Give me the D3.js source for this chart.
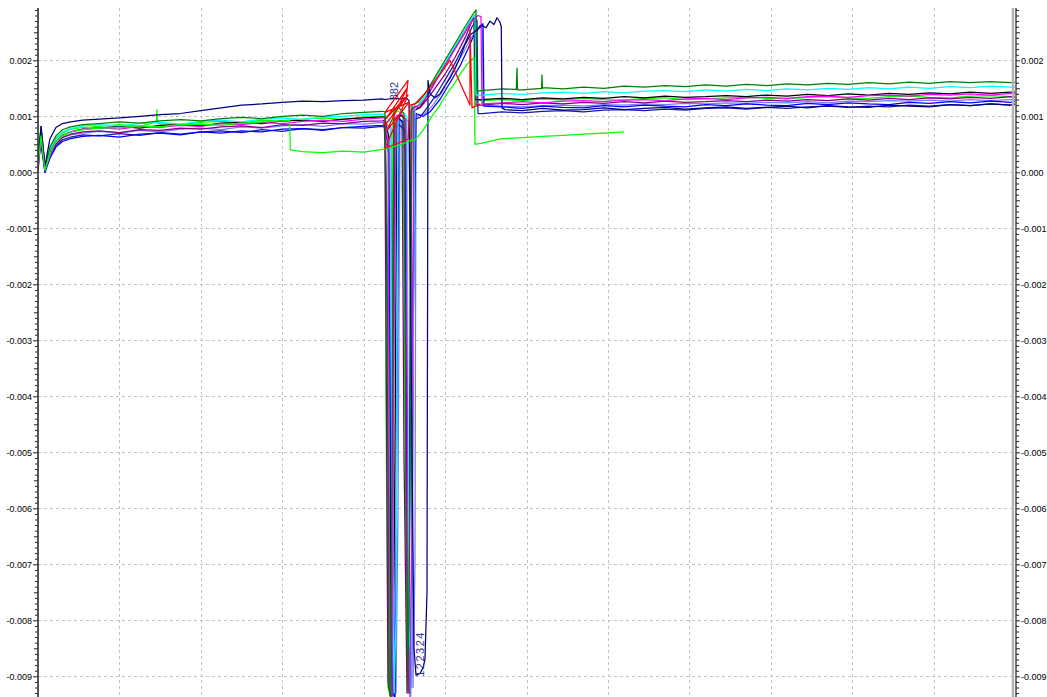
<!DOCTYPE html>
<html>
<head>
<meta charset="utf-8">
<script src="https://cdn.jsdelivr.net/npm/d3@7"></script>
<style>
  html, body { margin: 0; padding: 0; background: #ffffff; overflow: hidden; }
  text { font-family: "Liberation Sans", Arial, sans-serif; }
</style>
</head>
<body>
<svg id="chart" width="1047" height="697"></svg>
<script>
// Time base (s) shared by the recordings before and after the transition
const tPre = [0, 0.37, 0.86, 1.47, 2.2, 3, 4, 5.5, 7.5, 10, 12.5, 15, 17.5, 20, 22.5, 25, 27.5, 30, 32.5, 35, 37.5, 40, 42.3];
const tPost = [54.5, 57, 59.5, 62, 64.5, 67, 69.5, 72, 74.5, 77, 79.5, 82, 84.5, 87, 89.5, 92, 94.5, 97, 99.5, 102, 104.5, 107, 109.5, 112, 114.5, 117, 119.5, 120];

// Y ticks (values in units of 0.001)
const majorTicks = [-9, -8, -7, -6, -5, -4, -3, -2, -1, 0, 1, 2];
const gridTimes = [10, 20, 30, 40, 50, 60, 70, 80, 90, 100, 110];

// Readings (units of 0.001) ---------------------------------------------
const whitePre  = [0.3, 0.7, 0.05, 0.38, 0.58, 0.68, 0.74, 0.78, 0.8, 0.82, 0.8, 0.84, 0.86, 0.84, 0.88, 0.9, 0.88, 0.92, 0.94, 0.92, 0.96, 0.98, 1.0];
const whiteMid  = [[42.62,1.0],[42.87,0.4],[43.11,-9.1],[43.36,-9.3],[43.6,-4],[43.85,1.0],[44.46,1.05],[45.08,0.98],[45.32,-7],[45.57,-9.2],[45.81,-6],[46.06,1.1],[46.8,1.18],[47.78,1.38],[48.76,1.6],[49.99,1.9],[51.22,2.2],[52.45,2.5],[53.31,2.7],[53.55,2.75],[53.67,1.25]];
const whitePost = [1.25, 1.28, 1.3, 1.28, 1.31, 1.32, 1.3, 1.33, 1.34, 1.32, 1.35, 1.36, 1.34, 1.37, 1.38, 1.36, 1.39, 1.4, 1.38, 1.41, 1.42, 1.4, 1.43, 1.44, 1.42, 1.45, 1.46, 1.45];

const lime2Pre   = [0.35, 0.78, 0.08, 0.4, 0.6, 0.7, 0.77, 0.8, 0.82, 0.85, 0.82, 0.87, 0.85, 0.89, 0.91, 0.88, 0.93, 0.91, 0.95, 0.97, 0.94, 0.99, 1.0];
const lime2Mid   = [[42.62,1.0],[42.74,-4],[42.99,-9.2],[43.23,-9.3],[43.48,-2],[43.6,1.05],[44.22,1.1],[44.83,1.0],[45.2,-7],[45.45,-9.25],[45.69,-5],[45.94,1.15],[46.67,1.2],[47.53,1.35],[48.76,1.65],[49.99,1.95],[51.22,2.25],[52.45,2.55],[53.31,2.75],[53.67,2.82],[53.8,1.3]];
const lime2Post  = [1.28, 1.3, 1.28, 1.31, 1.29, 1.32, 1.3, 1.29, 1.32, 1.33, 1.3, 1.31, 1.33, 1.34, 1.32, 1.31, 1.34, 1.35, 1.33, 1.32, 1.35, 1.36, 1.34, 1.33, 1.36, 1.37, 1.35, 1.36];
const lime2Extra = [[14.55,0.9],[14.6,1.12],[14.66,0.88]];

const blackPre  = [0.2, 0.5, 0.0, 0.35, 0.55, 0.66, 0.72, 0.77, 0.79, 0.82, 0.79, 0.84, 0.85, 0.83, 0.88, 0.89, 0.87, 0.92, 0.93, 0.91, 0.95, 0.97, 0.99];
const blackMid  = [[42.62,0.98],[43.11,0.6],[43.36,-8.5],[43.6,-9.35],[43.85,-5],[44.09,0.95],[44.58,1.02],[45.08,0.95],[45.45,-6],[45.69,-9.3],[45.94,-8],[46.18,1.1],[46.92,1.16],[47.78,1.36],[48.76,1.62],[49.99,1.92],[51.22,2.22],[52.45,2.5],[53.31,2.72],[53.55,2.78],[53.67,1.3]];
const blackPost = [1.3, 1.32, 1.3, 1.33, 1.31, 1.34, 1.32, 1.35, 1.33, 1.36, 1.34, 1.35, 1.37, 1.35, 1.38, 1.36, 1.39, 1.37, 1.4, 1.38, 1.41, 1.39, 1.42, 1.4, 1.43, 1.41, 1.43, 1.43];

const periPre  = [0.3, 0.75, 0.1, 0.4, 0.55, 0.63, 0.67, 0.7, 0.73, 0.7, 0.75, 0.72, 0.77, 0.79, 0.76, 0.81, 0.79, 0.83, 0.85, 0.82, 0.87, 0.86, 0.89];
const periMid  = [[42.62,0.88],[43.36,0.8],[43.6,-7],[43.97,-9.3],[44.22,-6],[44.46,0.9],[45.08,0.95],[45.57,0.9],[45.81,-4],[46.06,-9.2],[46.3,-7],[46.43,1.0],[47.53,1.05],[48.5,1.2],[49.7,1.45],[50.9,1.8],[52.1,2.1],[53.2,2.4],[54.29,2.6],[54.6,2.55],[54.66,1.2]];
const periPost = [1.16, 1.18, 1.17, 1.19, 1.2, 1.18, 1.21, 1.2, 1.22, 1.21, 1.23, 1.22, 1.24, 1.23, 1.25, 1.24, 1.26, 1.24, 1.27, 1.26, 1.28, 1.27, 1.29, 1.27, 1.3, 1.28, 1.3, 1.3];

const dblPre  = [0.2, 0.65, 0.05, 0.3, 0.48, 0.58, 0.63, 0.67, 0.65, 0.69, 0.66, 0.71, 0.68, 0.72, 0.74, 0.71, 0.76, 0.73, 0.78, 0.76, 0.8, 0.79, 0.82];
const dblMid  = [[42.62,0.8],[42.87,-2],[43.11,-9.0],[43.36,-9.2],[43.6,-5],[43.85,0.8],[44.34,0.85],[45.08,0.75],[45.32,-6],[45.57,-9.3],[45.81,-9.1],[46.06,-2],[46.3,0.95],[46.92,0.98],[47.78,1.15],[48.76,1.35],[49.99,1.65],[51.22,1.95],[52.45,2.3],[53.31,2.6],[53.92,2.72],[54.04,1.05]];
const dblPost = [1.05, 1.08, 1.06, 1.09, 1.1, 1.08, 1.11, 1.12, 1.1, 1.13, 1.11, 1.14, 1.15, 1.13, 1.16, 1.14, 1.17, 1.18, 1.16, 1.18, 1.17, 1.2, 1.18, 1.21, 1.19, 1.22, 1.2, 1.22];

const purplePre  = [0.15, 0.7, 0.02, 0.3, 0.5, 0.62, 0.68, 0.72, 0.74, 0.71, 0.76, 0.75, 0.79, 0.77, 0.81, 0.83, 0.8, 0.85, 0.84, 0.88, 0.87, 0.91, 0.92];
const purpleMid  = [[42.5,0.93],[42.62,0.5],[42.99,-9.1],[43.23,-9.35],[43.48,-6],[43.73,0.95],[44.22,1.0],[44.71,0.9],[44.95,-5],[45.32,-9.3],[45.57,-7],[45.81,1.1],[46.3,1.18],[46.92,1.15],[47.78,1.3],[48.76,1.5],[49.99,1.75],[51.22,2.05],[52.45,2.4],[53.31,2.7],[53.67,2.78],[53.8,1.2]];
const purplePost = [1.2, 1.23, 1.21, 1.24, 1.22, 1.25, 1.23, 1.26, 1.24, 1.27, 1.25, 1.26, 1.28, 1.26, 1.29, 1.27, 1.3, 1.28, 1.31, 1.29, 1.32, 1.3, 1.33, 1.31, 1.34, 1.32, 1.35, 1.34];

const bluePre  = [0.05, 0.6, 0.0, 0.25, 0.45, 0.55, 0.6, 0.64, 0.66, 0.63, 0.68, 0.7, 0.67, 0.72, 0.7, 0.74, 0.72, 0.77, 0.78, 0.75, 0.8, 0.82, 0.84];
const blueMid  = [[42.62,0.85],[43.11,0.3],[43.48,-9.2],[43.85,-9.4],[44.09,-4],[44.34,0.95],[44.83,0.9],[45.08,0.3],[45.45,-9.0],[45.81,-9.2],[46.06,-3],[46.43,1.05],[47.29,1.0],[48.15,1.08],[49.37,1.3],[50.6,1.6],[51.83,1.9],[52.81,2.2],[53.55,2.45],[54.29,2.62],[54.66,2.65],[54.78,1.18]];
const bluePost = [1.15, 1.17, 1.14, 1.18, 1.16, 1.15, 1.19, 1.17, 1.2, 1.18, 1.17, 1.21, 1.19, 1.22, 1.2, 1.19, 1.23, 1.21, 1.24, 1.22, 1.21, 1.25, 1.23, 1.26, 1.24, 1.27, 1.25, 1.27];

const cyanPre  = [0.4, 0.72, 0.06, 0.42, 0.62, 0.72, 0.78, 0.83, 0.85, 0.83, 0.87, 0.89, 0.86, 0.91, 0.93, 0.9, 0.95, 0.97, 0.94, 0.99, 1.0, 1.03, 1.04];
const cyanMid  = [[42.62,1.03],[43.23,0.9],[43.48,-6],[43.73,-9.3],[43.97,-8],[44.22,1.0],[44.71,1.08],[45.32,1.0],[45.57,-8],[45.81,-9.35],[46.06,-4],[46.3,1.15],[46.92,1.22],[47.78,1.4],[48.76,1.65],[49.99,1.95],[51.22,2.25],[52.45,2.55],[53.31,2.75],[53.67,2.8],[53.8,1.38]];
const cyanPost = [1.38, 1.41, 1.39, 1.42, 1.43, 1.41, 1.44, 1.42, 1.45, 1.46, 1.44, 1.47, 1.45, 1.48, 1.46, 1.49, 1.47, 1.5, 1.48, 1.51, 1.49, 1.52, 1.5, 1.53, 1.51, 1.54, 1.52, 1.53];

const magPre  = [0.0, 0.6, 0.05, 0.3, 0.55, 0.66, 0.72, 0.77, 0.8, 0.77, 0.82, 0.8, 0.84, 0.82, 0.87, 0.85, 0.89, 0.87, 0.91, 0.93, 0.91, 0.95, 0.97];
const magMid  = [[42.62,0.97],[42.99,0.5],[43.23,-9.0],[43.48,-9.45],[43.73,-3],[43.97,1.0],[44.58,1.05],[45.2,0.95],[45.45,-8],[45.69,-9.4],[45.94,-6],[46.18,1.15],[46.92,1.2],[47.78,1.35],[48.76,1.6],[49.99,1.9],[51.22,2.2],[52.45,2.5],[53.31,2.7],[54.04,2.8],[54.41,2.78],[54.53,1.22]];
const magPost = [1.22, 1.24, 1.26, 1.24, 1.27, 1.28, 1.26, 1.29, 1.3, 1.28, 1.31, 1.32, 1.3, 1.33, 1.34, 1.32, 1.35, 1.36, 1.34, 1.37, 1.38, 1.36, 1.39, 1.38, 1.4, 1.38, 1.41, 1.4];

const greenPre   = [0.2, 0.82, 0.1, 0.45, 0.65, 0.76, 0.81, 0.85, 0.87, 0.9, 0.88, 0.92, 0.94, 0.92, 0.96, 0.98, 0.96, 1.0, 1.02, 1.0, 1.05, 1.07, 1.09];
const greenMid   = [[42.62,1.08],[42.87,-1],[43.11,-9.2],[43.36,-9.4],[43.6,-1],[43.73,1.1],[44.34,1.15],[44.95,1.05],[45.2,-6],[45.45,-9.3],[45.69,-6],[45.94,1.2],[46.67,1.25],[47.53,1.4],[48.76,1.7],[49.99,2.0],[51.22,2.3],[52.45,2.6],[53.31,2.8],[53.8,2.9],[53.92,1.45]];
const greenPost  = [1.46, 1.49, 1.47, 1.51, 1.49, 1.52, 1.5, 1.54, 1.52, 1.55, 1.53, 1.56, 1.54, 1.57, 1.55, 1.58, 1.56, 1.59, 1.57, 1.6, 1.58, 1.61, 1.59, 1.62, 1.6, 1.62, 1.6, 1.61];
const greenExtra = [[58.75,1.48],[58.83,1.86],[58.9,1.47],[61.85,1.5],[61.9,1.74],[61.95,1.5]];

const navyPre  = [0.1, 0.82, 0.12, 0.6, 0.8, 0.87, 0.9, 0.93, 0.95, 0.97, 1.0, 1.03, 1.05, 1.1, 1.15, 1.2, 1.22, 1.25, 1.27, 1.26, 1.28, 1.29, 1.31];
const navyMid  = [[42.62,1.3],[43.6,1.32],[44.46,1.31],[45.2,1.33],[45.57,1.28],[45.94,-5],[46.18,-8.5],[46.43,-8.98],[46.92,-8.95],[47.29,-8.85],[47.53,-8.7],[47.78,-7.5],[47.9,1.64],[48.15,1.4],[48.76,1.33],[49.37,1.4],[49.99,1.55],[50.6,1.68],[51.22,1.85],[51.83,2.05],[52.45,2.28],[53.06,2.45],[53.55,2.5],[54.04,2.56],[54.53,2.62],[55.02,2.58],[55.52,2.7],[56.0,2.64],[56.38,2.76],[56.74,2.68],[56.9,2.6],[56.99,1.15],[57.36,1.12]];
const navyPost = [1.1, 1.13, 1.1, 1.14, 1.11, 1.12, 1.15, 1.12, 1.14, 1.16, 1.13, 1.15, 1.17, 1.14, 1.16, 1.18, 1.15, 1.19, 1.17, 1.16, 1.2, 1.18, 1.17, 1.21, 1.19, 1.22, 1.2, 1.22];

const limePre   = [0.1, 0.65, 0.03, 0.33, 0.55, 0.65, 0.72, 0.76, 0.79, 0.8, 0.83, 0.81, 0.85, 0.86, 0.84, 0.88, 0.9, 0.92, 0.37, 0.35, 0.38, 0.36, 0.41];
const limeMid   = [[42.62,0.42],[43.6,0.46],[44.71,0.5],[45.57,0.56],[46.3,0.58],[47.29,0.75],[48.15,0.95],[49.37,1.2],[49.99,1.35],[51.22,1.6],[51.83,1.75],[52.81,1.95],[53.55,2.05],[53.67,0.5]];
const limePost  = [0.52, 0.6, 0.62, 0.64, 0.66, 0.68, 0.7, 0.72];
const limeExtra = [[30.9,0.93],[31.0,0.4]];

// Marker trace, recorded in acquisition order (not sorted by time)
const redTrace = [[42.5,0.9],[42.62,0.84],[45.45,1.38],[42.74,0.96],[45.32,1.5],[42.87,0.75],[45.57,1.25],[42.62,1.07],[45.45,1.64],[45.2,1.29],[42.62,0.43],[45.45,0.59],[45.69,1.2],[46.3,1.22],[47.78,1.45],[49.37,1.75],[50.6,2.0],[53.06,1.2],[53.06,2.55],[53.31,1.15],[54.3,1.22]];

// Channel labels
const labelTexts = ["382", "122324"];
const labelAt = [[43.73, 1.45], [46.95, -8.6]];

// ---------------------------------------------------------------------
function build(pre, mid, post, extra) {
  const pts = [];
  pre.forEach((v, i) => pts.push([tPre[i], v]));
  mid.forEach(p => pts.push(p));
  const last = pts[pts.length - 1][0];
  post.forEach((v, i) => { if (tPost[i] > last) pts.push([tPost[i], v]); });
  if (extra) { extra.forEach(p => pts.push(p)); pts.sort((a, b) => a[0] - b[0]); }
  return pts;
}

const traces = [
  { color: "#ffffff", pts: build(whitePre, whiteMid, whitePost) },
  { color: "#00ff00", pts: build(lime2Pre, lime2Mid, lime2Post, lime2Extra) },
  { color: "#000000", pts: build(blackPre, blackMid, blackPost) },
  { color: "#7878ff", pts: build(periPre, periMid, periPost) },
  { color: "#1818a8", pts: build(dblPre, dblMid, dblPost) },
  { color: "#800080", pts: build(purplePre, purpleMid, purplePost) },
  { color: "#0000ff", pts: build(bluePre, blueMid, bluePost) },
  { color: "#00ffff", pts: build(cyanPre, cyanMid, cyanPost) },
  { color: "#ff00ff", pts: build(magPre, magMid, magPost) },
  { color: "#008000", pts: build(greenPre, greenMid, greenPost, greenExtra) },
  { color: "#000080", pts: build(navyPre, navyMid, navyPost) },
  { color: "#00ff00", pts: build(limePre, limeMid, limePost, limeExtra) },
  { color: "#ff0000", pts: redTrace }
];

const svg = d3.select("#chart");
const x = d3.scaleLinear().domain([0, 120]).range([38, 1015]);
const y = d3.scaleLinear().domain([-9.5, 2.934]).range([704.3, 8]);
const plotTop = 8, plotBottom = 697;

svg.append("rect").attr("width", 1047).attr("height", 697).attr("fill", "#ffffff");

// grid
const grid = svg.append("g").attr("stroke", "#c4c4c4").attr("stroke-width", 1).attr("stroke-dasharray", "3,3");
grid.selectAll("line.v").data(gridTimes).join("line").attr("class", "v")
  .attr("x1", d => Math.round(x(d)) + 0.5).attr("x2", d => Math.round(x(d)) + 0.5)
  .attr("y1", plotTop).attr("y2", plotBottom);
grid.selectAll("line.h").data(majorTicks).join("line").attr("class", "h")
  .attr("x1", x(0)).attr("x2", x(120))
  .attr("y1", d => Math.round(y(d)) + 0.5).attr("y2", d => Math.round(y(d)) + 0.5);

// traces
svg.append("clipPath").attr("id", "plotClip").append("rect")
  .attr("x", x(0)).attr("y", plotTop).attr("width", x(120) - x(0)).attr("height", plotBottom - plotTop);

const line = d3.line().x(d => x(d[0])).y(d => y(d[1]));
svg.append("g").attr("clip-path", "url(#plotClip)")
  .selectAll("path").data(traces).join("path")
  .attr("d", d => line(d.pts))
  .attr("fill", "none")
  .attr("stroke", d => d.color)
  .attr("stroke-width", 1.25)
  .attr("stroke-linejoin", "round");

// channel labels
svg.append("g").selectAll("text").data(labelTexts).join("text")
  .attr("transform", (d, i) => `translate(${x(labelAt[i][0])},${y(labelAt[i][1])}) rotate(-90)`)
  .attr("text-anchor", "middle")
  .attr("dominant-baseline", "central")
  .attr("font-size", 11)
  .attr("letter-spacing", (d, i) => i === 1 ? 1.5 : 0)
  .attr("fill", "#33338c")
  .text(d => d);

// axes
const fmt = d => (d / 1000).toFixed(3);
const minorTicks = d3.range(-94, 30).map(d => d / 10).filter(d => Math.abs(d - Math.round(d)) > 1e-6);
const halfTicks = minorTicks.filter(d => Math.abs(Math.abs(d % 1) - 0.5) < 1e-6);
const smallTicks = minorTicks.filter(d => halfTicks.indexOf(d) < 0);

function styleAxis(g) {
  g.select(".domain").remove();
  g.selectAll("line").attr("stroke", "#202020");
  g.selectAll("text").attr("font-size", 9).attr("fill", "#000000")
    .attr("font-family", "'Liberation Sans', Arial, sans-serif");
}

// left
svg.append("g").attr("transform", "translate(38,0)")
  .call(d3.axisLeft(y).tickValues(smallTicks).tickSize(3).tickFormat(""))
  .call(styleAxis);
svg.append("g").attr("transform", "translate(38,0)")
  .call(d3.axisLeft(y).tickValues(halfTicks).tickSize(4).tickFormat(""))
  .call(styleAxis);
svg.append("g").attr("transform", "translate(38,0)")
  .call(d3.axisLeft(y).tickValues(majorTicks).tickSize(5).tickPadding(1).tickFormat(fmt))
  .call(styleAxis);
svg.append("line").attr("x1", 38).attr("x2", 38).attr("y1", plotTop).attr("y2", plotBottom)
  .attr("stroke", "#303030").attr("stroke-width", 1.6);

// right
svg.append("line").attr("x1", 1013).attr("x2", 1013).attr("y1", plotTop).attr("y2", plotBottom)
  .attr("stroke", "#b4b4b4").attr("stroke-width", 2.5);
svg.append("g").attr("transform", "translate(1016,0)")
  .call(d3.axisRight(y).tickValues(smallTicks).tickSize(3).tickFormat(""))
  .call(styleAxis);
svg.append("g").attr("transform", "translate(1016,0)")
  .call(d3.axisRight(y).tickValues(halfTicks).tickSize(4).tickFormat(""))
  .call(styleAxis);
svg.append("g").attr("transform", "translate(1016,0)")
  .call(d3.axisRight(y).tickValues(majorTicks).tickSize(4).tickPadding(1).tickFormat(fmt))
  .call(styleAxis);
svg.append("line").attr("x1", 1016).attr("x2", 1016).attr("y1", plotTop).attr("y2", plotBottom)
  .attr("stroke", "#202020").attr("stroke-width", 1.2);
</script>
</body>
</html>
